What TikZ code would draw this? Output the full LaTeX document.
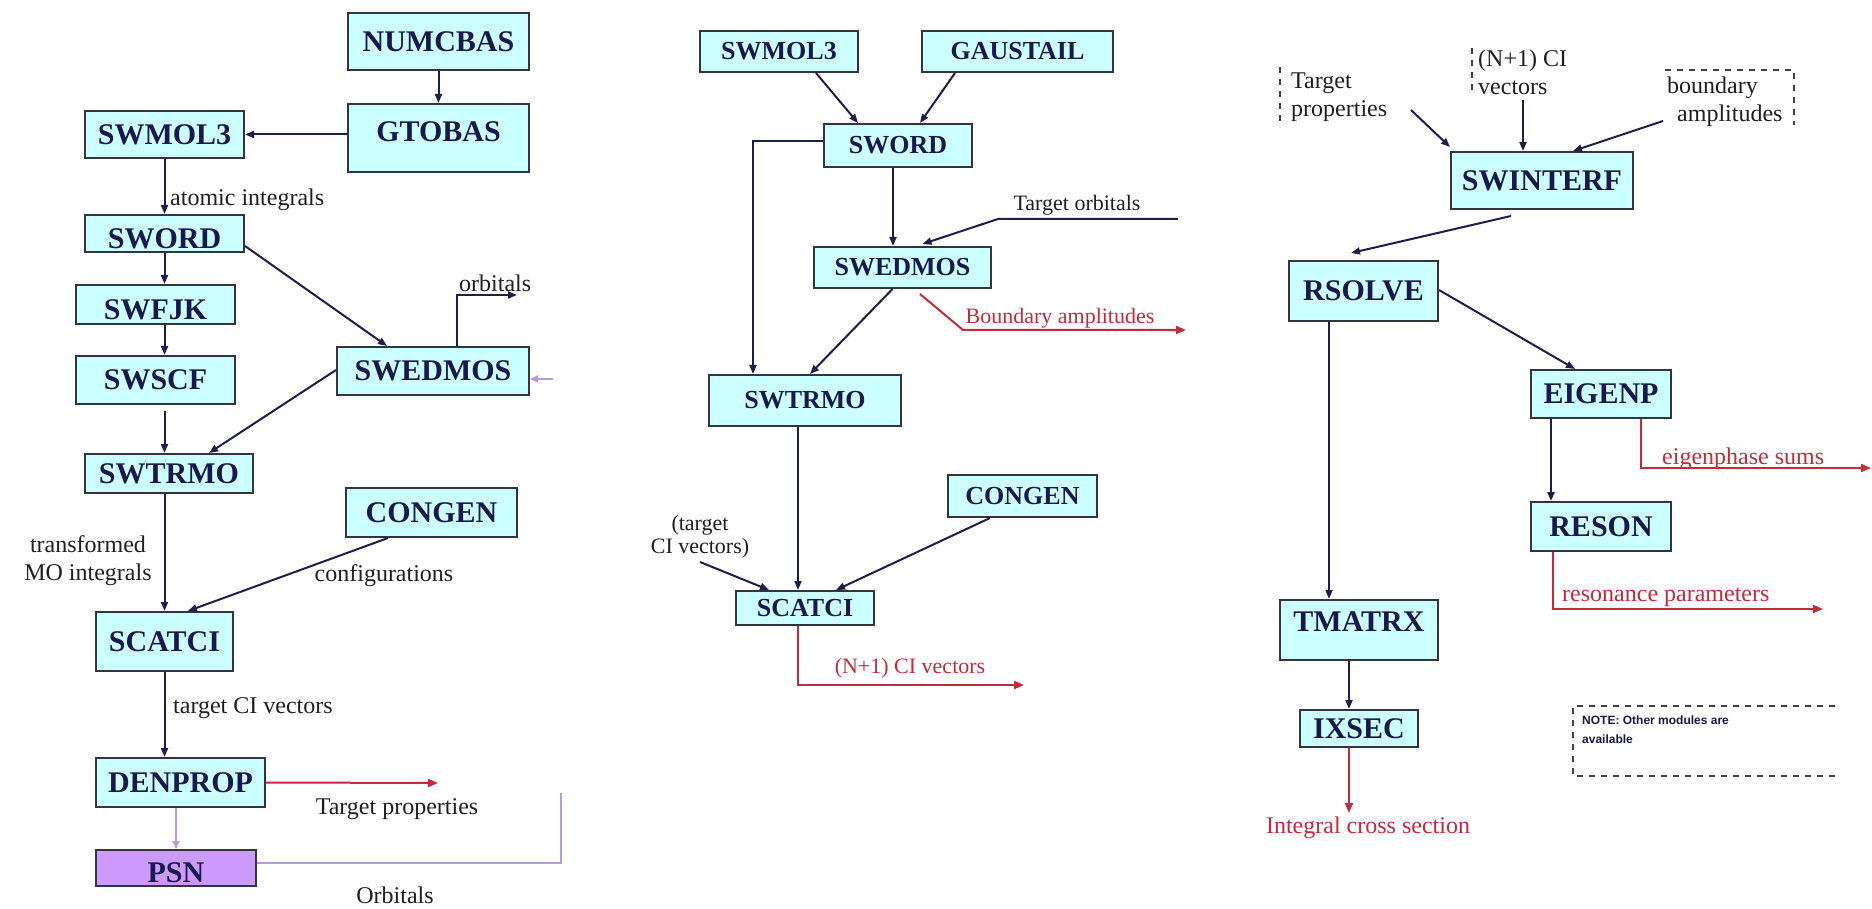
\documentclass[tikz,border=0pt]{standalone}
\usepackage{fontspec}
\setmainfont{Liberation Serif}
\newfontfamily\notefont{Liberation Sans}
\usetikzlibrary{arrows.meta,calc}
\definecolor{boxfill}{HTML}{CCFFFF}
\definecolor{boxline}{HTML}{34343E}
\definecolor{navy}{HTML}{18184C}
\definecolor{arrowc}{HTML}{1E1E4A}
\definecolor{redc}{HTML}{C42A3A}
\definecolor{lav}{HTML}{B89AD4}
\definecolor{psnfill}{HTML}{CC99FF}
\tikzset{
  box/.style={draw=boxline, fill=boxfill, line width=2pt, inner sep=0pt, text=navy,
    font=\bfseries\fontsize{30}{32}\selectfont},
  mbox/.style={box, font=\bfseries\fontsize{26}{28}\selectfont},
  arr/.style={draw=arrowc, line width=2pt, -{Triangle[length=9pt,width=7pt]}},
  redarr/.style={draw=redc, line width=2pt, -{Triangle[length=10pt,width=8pt]}},
  lavarr/.style={draw=lav, line width=1.8pt, -{Triangle[length=8pt,width=7pt]}},
  lavline/.style={draw=lav, line width=1.8pt},
  lbl/.style={text=black!88, inner sep=0pt, font=\fontsize{24}{28}\selectfont},
  mlbl/.style={lbl, font=\fontsize{22}{23}\selectfont},
  dsh/.style={draw=black!75, line width=1.3pt, dash pattern=on 6pt off 6pt},
}
\begin{document}
\begin{tikzpicture}[x=1pt, y=-1pt]
\path[fill=white] (0,0) rectangle (1872,909);
\useasboundingbox (0,0) rectangle (1872,909);

% ---------------- left diagram ----------------
\node[box, minimum width=181pt, minimum height=57pt] (numcbas) at (438.5,41.5) {NUMCBAS};
\node[box, minimum width=181pt, minimum height=68pt] (gtobas) at (438.5,138) {\raisebox{6pt}[\height][\depth]{GTOBAS}\hspace{32pt}};
\node[box, minimum width=159pt, minimum height=47pt] (swmol3a) at (164.5,134.5) {SWMOL3};
\node[box, minimum width=159pt, minimum height=37pt] (sword1) at (164.5,233.5) {\raisebox{-5pt}[\height][\depth]{SWORD}};
\node[box, minimum width=159pt, minimum height=39pt] (swejk) at (155.5,304.5) {\raisebox{-5pt}[\height][\depth]{SWFJK}};
\node[box, minimum width=159pt, minimum height=48pt] (swscf) at (155.5,380) {SWSCF};
\node[box, minimum width=168pt, minimum height=39pt] (swtrmo1) at (169,473.5) {SWTRMO};
\node[box, minimum width=192pt, minimum height=48pt] (swedmos1) at (433,371) {SWEDMOS};
\node[box, minimum width=171pt, minimum height=49pt] (congen1) at (431.5,512.5) {CONGEN};
\node[box, minimum width=137pt, minimum height=59pt] (scatci1) at (164.5,641.5) {SCATCI};
\node[box, minimum width=169pt, minimum height=49pt] (denprop) at (180.5,782.5) {DENPROP};
\node[box, fill=psnfill, minimum width=160pt, minimum height=36pt] (psn) at (176,868) {\raisebox{-5pt}[\height][\depth]{PSN}};

\draw[arr] (numcbas) -- (gtobas);
\draw[arr] (gtobas.west |- swmol3a.east) -- (swmol3a.east);
\draw[arr] (swmol3a) -- (sword1);
\node[lbl, anchor=west] (atomlbl) at (170,200) {atomic integrals};
\draw[arr] (sword1.south) -- (sword1.south |- swejk.north);
\draw[arr] (sword1.south |- swejk.south) -- (sword1.south |- swscf.north);
\draw[arr, shorten <=6pt] (sword1.south |- swscf.south) -- (sword1.south |- swtrmo1.north);
\draw[arr] ([yshift=7pt]sword1.south east) -- ([xshift=-46pt]swedmos1.north);
\draw[arr] ([yshift=1pt]swedmos1.west) -- ([xshift=40pt]swtrmo1.north);
\coordinate (orbend) at (517,295);
\draw[arr] ([xshift=24pt]swedmos1.north) |- (orbend);
\node[lbl, anchor=base west] (orblbl) at (459,292) {orbitals};
\coordinate (pinkstart) at (553,379);
\draw[lavarr] (pinkstart) -- (swedmos1.east |- pinkstart);
\draw[arr] (scatci1.north |- swtrmo1.south) -- (scatci1.north);
\draw[arr] ([xshift=-43.5pt]congen1.south) -- ([xshift=23.5pt]scatci1.north);
\node[lbl, align=center] (tmolbl) at (88,561) {transformed\\MO integrals};
\node[lbl] (conflbl) at (384,576) {configurations};
\draw[arr] (scatci1.south) -- (scatci1.south |- denprop.north);
\node[lbl, anchor=west] (tcilbl) at (173,708) {target CI vectors};
\coordinate (tpend) at (438,783);
\draw[redarr] (denprop.east) -- (tpend);
\node[lbl] (tplbl) at (397,809) {Target properties};
\draw[lavarr] (psn.north |- denprop.south) -- (psn.north);
\coordinate (orbup) at (561,793);
\draw[lavline] ([yshift=5pt]psn.east) -| (orbup);
\node[lbl] (orbslbl) at (395,895) {Orbitals};

% ---------------- middle diagram ----------------
\node[mbox, minimum width=158pt, minimum height=41pt] (swmol3b) at (779,51.5) {SWMOL3};
\node[mbox, minimum width=191pt, minimum height=41pt] (gaustail) at (1017.5,51.5) {GAUSTAIL};
\node[mbox, minimum width=148pt, minimum height=43pt] (sword2) at (898,145.5) {SWORD};
\node[mbox, minimum width=177pt, minimum height=41pt] (swedmos2) at (902.5,267.5) {SWEDMOS};
\node[mbox, minimum width=192pt, minimum height=51pt] (swtrmo2) at (805,400.5) {SWTRMO};
\node[mbox, minimum width=149pt, minimum height=42pt] (congen2) at (1022.5,496) {CONGEN};
\node[mbox, minimum width=138pt, minimum height=34pt] (scatci2) at (805,608) {SCATCI};

\draw[arr] ([xshift=37pt]swmol3b.south) -- ([xshift=-40pt]sword2.north);
\draw[arr] ([xshift=-62.5pt]gaustail.south) -- ([xshift=22pt]sword2.north);
\draw[arr] ([xshift=-5pt]sword2.south) -- ([xshift=-5pt]sword2.south |- swedmos2.north);
\draw[arr] ([yshift=4pt]sword2.west) -| ([xshift=-52pt]swtrmo2.north);
\coordinate (tostart) at (1178,219);
\coordinate (tobend) at (998,219);
\draw[arr] (tostart) -- (tobend) -- ([xshift=20pt,yshift=2pt]swedmos2.north);
\node[mlbl] (tolbl) at (1077,205) {Target orbitals};
\coordinate (babend) at (963,330);
\coordinate (baend) at (1186,330);
\draw[redarr] ([xshift=17.5pt,yshift=-5pt]swedmos2.south) -- (babend) -- (baend);
\node[mlbl, text=redc] (balbl) at (1060,318) {Boundary amplitudes};
\draw[arr] ([xshift=-10pt]swedmos2.south) -- ([xshift=5pt]swtrmo2.north);
\draw[arr] ([xshift=-7pt]swtrmo2.south) -- ([xshift=-7pt]scatci2.north);
\node[mlbl, align=center] (tcvlbl) at (700,537) {(target\\CI vectors)};
\coordinate (tcistart) at (700,562);
\draw[arr] (tcistart) -- ([xshift=-36pt]scatci2.north);
\draw[arr] ([xshift=-32.5pt]congen2.south) -- ([xshift=31pt]scatci2.north);
\coordinate (ciend) at (1024,685);
\draw[redarr] ([xshift=-7pt]scatci2.south) |- (ciend);
\node[mlbl, text=redc] (cilbl) at (910,668) {(N+1) CI vectors};

% ---------------- right diagram ----------------
\node[box, minimum width=182pt, minimum height=57pt] (swinterf) at (1542,180.5) {SWINTERF};
\node[box, minimum width=149pt, minimum height=60pt] (rsolve) at (1363.5,291) {RSOLVE};
\node[box, minimum width=140pt, minimum height=48pt] (eigenp) at (1601,394) {EIGENP};
\node[box, minimum width=140pt, minimum height=49pt] (reson) at (1601,526.5) {RESON};
\node[box, minimum width=158pt, minimum height=60pt] (tmatrx) at (1359,630) {\raisebox{8pt}[\height][\depth]{TMATRX}};
\node[box, minimum width=118pt, minimum height=37pt] (ixsec) at (1359,728.5) {IXSEC};

\node[lbl, align=left, anchor=west] (tpin) at (1291,97) {Target\\properties};
\node[lbl, align=left, anchor=west] (ciin) at (1478,72) {(N+1) CI\\vectors};
\node[lbl, align=left, anchor=west] (bain) at (1667,102) {boundary\\\hspace{10pt}amplitudes};
\draw[dsh] (1280,67) -- (1280,127);
\draw[dsh] (1472,48) -- (1472,92);
\draw[dsh] (1665,70) -- (1794,70) -- (1794,125);

\coordinate (tpsrc) at (1411,110);
\draw[arr] (tpsrc) -- ([yshift=4pt]swinterf.north west);
\coordinate (cisrc) at (1523,100);
\draw[arr] (cisrc) -- ([xshift=-19pt]swinterf.north);
\coordinate (basrc) at (1663,121);
\draw[arr] (basrc) -- ([xshift=31pt]swinterf.north);
\draw[arr] ([xshift=-31pt,yshift=-6pt]swinterf.south) -- ([xshift=-12.5pt,yshift=7pt]rsolve.north);
\draw[arr] ([yshift=1pt]rsolve.east) -- ([xshift=-26pt]eigenp.north);
\draw[arr] ([xshift=-34.5pt]rsolve.south) -- ([xshift=-34.5pt]rsolve.south |- tmatrx.north);
\draw[arr] ([xshift=-50pt]eigenp.south) -- ([xshift=-50pt]eigenp.south |- reson.north);
\coordinate (epend) at (1871,468);
\draw[redarr] ([xshift=40pt]eigenp.south) |- (epend);
\node[lbl, text=redc, anchor=base west] (eplbl) at (1662,464) {eigenphase sums};
\coordinate (rpend) at (1823,609);
\draw[redarr] ([xshift=-48pt]reson.south) |- (rpend);
\node[lbl, text=redc, anchor=base west] (rplbl) at (1562,601) {resonance parameters};
\draw[arr] ([xshift=-10pt]tmatrx.south) -- ([xshift=-10pt]tmatrx.south |- ixsec.north);
\coordinate (icsend) at (1349,813);
\draw[redarr] (ixsec.south -| icsend) -- (icsend);
\node[lbl, text=redc] (icslbl) at (1368,828) {Integral cross section};

\draw[dsh] (1835,706) -- (1573,706) -- (1573,776) -- (1835,776);
\node[anchor=north west, align=left, inner sep=0pt, text=navy,
  font=\notefont\bfseries\fontsize{12}{19}\selectfont] (note) at (1582,716) {NOTE: Other modules are\\available};
\end{tikzpicture}
\end{document}
